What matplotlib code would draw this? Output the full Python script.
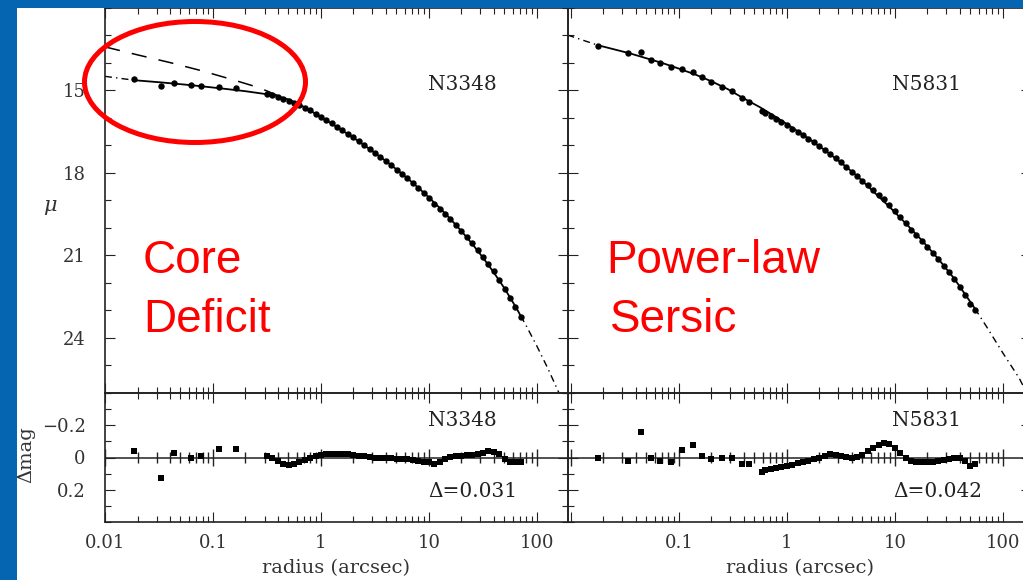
import numpy as np
import matplotlib
matplotlib.use("Agg")
import matplotlib.pyplot as plt
from matplotlib.patches import Ellipse, Rectangle
from matplotlib.ticker import LogLocator, NullFormatter, MultipleLocator

# ---- N3348 (core-Sersic) ----
n3348_r = [0.0186, 0.033, 0.044, 0.0625, 0.077, 0.114, 0.163,
           0.316, 0.355, 0.398, 0.447, 0.501, 0.562, 0.631, 0.708, 0.794, 0.891,
           1.00, 1.12, 1.26, 1.41, 1.58, 1.78, 2.00, 2.24, 2.51, 2.82,
           3.16, 3.55, 3.98, 4.47, 5.01, 5.62, 6.31, 7.08, 7.94, 8.91,
           10.0, 11.2, 12.6, 14.1, 15.8, 17.8, 20.0, 22.4, 25.1, 28.2,
           31.6, 35.5, 39.8, 44.7, 50.1, 56.2, 63.1, 70.8]
n3348_mu = [14.60, 14.85, 14.74, 14.82, 14.85, 14.88, 14.94,
            15.14, 15.18, 15.24, 15.32, 15.385, 15.47, 15.55, 15.645, 15.74, 15.85,
            15.965, 16.08, 16.20, 16.325, 16.45, 16.58, 16.715, 16.855, 16.99, 17.135,
            17.28, 17.425, 17.575, 17.73, 17.89, 18.05, 18.21, 18.385, 18.56, 18.745,
            18.93, 19.13, 19.31, 19.49, 19.675, 19.89, 20.11, 20.335, 20.565, 20.81,
            21.05, 21.31, 21.585, 21.89, 22.21, 22.55, 22.88, 23.23]
n3348_dmag = [-0.04, 0.125, -0.03, 0.0, -0.01, -0.05, -0.05,
              -0.01, 0.0, 0.02, 0.04, 0.045, 0.04, 0.03, 0.015, 0.0, -0.01,
              -0.015, -0.02, -0.02, -0.02, -0.02, -0.02, -0.015, -0.01, -0.01, -0.005,
              0.0, 0.0, 0.005, 0.005, 0.01, 0.01, 0.01, 0.015, 0.02, 0.025,
              0.03, 0.04, 0.03, 0.01, -0.005, -0.01, -0.01, -0.015, -0.015, -0.02,
              -0.03, -0.04, -0.035, -0.02, 0.01, 0.03, 0.03, 0.03]
# model fit (solid), its extrapolations (dash-dot) and the Sersic part (dashed)
n3348_fit_r = [0.0186, 0.033, 0.0625, 0.114, 0.2, 0.316, 0.398, 0.501, 0.631, 0.794,
               1.0, 1.26, 1.58, 2.0, 2.51, 3.16, 3.98, 5.01, 6.31, 7.94,
               10.0, 12.6, 15.8, 20.0, 25.1, 31.6, 39.8, 50.1, 63.1, 70.8]
n3348_fit_mu = [14.64, 14.72, 14.82, 14.93, 15.04, 15.15, 15.22, 15.34, 15.52, 15.74,
                15.98, 16.22, 16.47, 16.73, 17.0, 17.28, 17.57, 17.88, 18.2, 18.54,
                18.9, 19.28, 19.68, 20.12, 20.58, 21.08, 21.62, 22.2, 22.85, 23.2]
n3348_in_r = [0.01, 0.0186]
n3348_in_mu = [14.50, 14.64]
n3348_out_r = [70.8, 79.4, 100, 126, 158, 178]
n3348_out_mu = [23.2, 23.55, 24.3, 25.1, 25.95, 26.4]
n3348_sersic_r = [0.01, 0.02, 0.04, 0.079, 0.158, 0.251, 0.316, 0.398]
n3348_sersic_mu = [13.43, 13.72, 14.0, 14.3, 14.64, 14.88, 15.03, 15.2]

# ---- N5831 (Sersic) ----
n5831_r = [0.0178, 0.034, 0.045, 0.055, 0.067, 0.085, 0.107, 0.135, 0.163, 0.2,
           0.25, 0.31, 0.38, 0.45, 0.59,
           0.631, 0.708, 0.794, 0.891, 1.0, 1.12, 1.26, 1.41, 1.58, 1.78,
           2.0, 2.24, 2.51, 2.82, 3.16, 3.55, 3.98, 4.47, 5.01, 5.62,
           6.31, 7.08, 7.94, 8.91, 10.0, 11.2, 12.6, 14.1, 15.8, 17.8,
           20.0, 22.4, 25.1, 28.2, 31.6, 35.5, 39.8, 44.7, 50.1, 55.0]
n5831_mu = [13.39, 13.67, 13.62, 13.89, 14.02, 14.15, 14.22, 14.33, 14.52, 14.69,
            14.87, 15.05, 15.30, 15.45, 15.76,
            15.82, 15.93, 16.045, 16.17, 16.28, 16.405, 16.525, 16.645, 16.77, 16.90,
            17.04, 17.17, 17.31, 17.465, 17.62, 17.785, 17.96, 18.115, 18.295, 18.45,
            18.62, 18.795, 18.96, 19.155, 19.38, 19.61, 19.84, 20.07, 20.275, 20.49,
            20.71, 20.925, 21.14, 21.375, 21.61, 21.855, 22.135, 22.43, 22.75, 22.97]
n5831_dmag = [0.0, 0.02, -0.16, 0.0, 0.02, 0.025, -0.045, -0.075, -0.01, 0.01,
              0.0, 0.0, 0.04, 0.04, 0.09,
              0.08, 0.07, 0.065, 0.06, 0.05, 0.045, 0.035, 0.025, 0.02, 0.01,
              0.0, -0.01, -0.02, -0.015, -0.01, -0.005, 0.0, -0.005, -0.015, -0.04,
              -0.06, -0.075, -0.09, -0.085, -0.06, -0.03, 0.0, 0.02, 0.025, 0.03,
              0.03, 0.025, 0.02, 0.015, 0.01, 0.005, 0.005, 0.02, 0.05, 0.04]
n5831_fit_r = [0.0178, 0.0355, 0.0708, 0.1, 0.141, 0.2, 0.282, 0.398, 0.562, 0.794,
               1.12, 1.58, 2.24, 3.16, 4.47, 6.31, 8.91, 12.6, 17.8, 25.1, 35.5, 50.1, 55.0]
n5831_fit_mu = [13.37, 13.67, 14.02, 14.22, 14.43, 14.68, 14.96, 15.3, 15.62, 15.98,
                16.36, 16.75, 17.18, 17.63, 18.12, 18.68, 19.24, 19.84, 20.46, 21.12, 21.85, 22.7, 22.93]
n5831_in_r = [0.0093, 0.0178]
n5831_in_mu = [13.0, 13.37]
n5831_out_r = [55.0, 70.8, 100, 141, 182]
n5831_out_mu = [22.93, 23.6, 24.55, 25.45, 26.3]

xticks = [0.01, 0.1, 1, 10, 100]
xtick_labels = ["0.01", "0.1", "1", "10", "100"]
xminor = [m * d for d in (0.001, 0.01, 0.1, 1, 10, 100) for m in range(2, 10)]
mu_ticks = [15, 18, 21, 24]
dm_ticks = [-0.2, 0, 0.2]
dm_labels = ["\u22120.2", "0", "0.2"]

W, H = 1023, 580
BLUE = "#0565B0"
INK = "#222222"

plt.rcParams["font.family"] = ["DejaVu Serif"]


def box(x0, y0, x1, y1):
    # pixel box (top-left origin) -> figure fraction
    return [x0 / W, 1 - y1 / H, (x1 - x0) / W, (y1 - y0) / H]


def style(ax, xlim, ylim, yticks, ylabels, left_labels, bottom_labels, ystep, xlabels):
    ax.set_facecolor("none")
    ax.set_xscale("log")
    ax.set_xlim(*xlim)
    ax.set_xticks(xticks, labels=xlabels)
    ax.xaxis.set_minor_locator(LogLocator(base=10, subs=np.arange(2, 10)))
    ax.xaxis.set_minor_formatter(NullFormatter())
    ax.set_ylim(*ylim)
    ax.set_yticks(yticks, labels=ylabels)
    ax.yaxis.set_minor_locator(MultipleLocator(ystep))
    ax.tick_params(which="both", direction="in", top=True, right=True,
                   width=0.8, colors=INK, labelcolor="#333333", labelsize=13,
                   labelleft=left_labels, labelbottom=bottom_labels)
    ax.tick_params(which="major", length=7)
    ax.tick_params(which="minor", length=4)
    ax.tick_params(axis="y", pad=14)
    ax.tick_params(axis="x", pad=9)
    for s in ax.spines.values():
        s.set_linewidth(1.2)
        s.set_color(INK)


def zero_line(ax):
    # the Δmag = 0 line carries tick marks, like an inner axis
    lo, hi = ax.get_xlim()
    ax.axhline(0, color=INK, lw=1.1, zorder=2)
    maj = [x for x in xticks if lo <= x <= hi]
    mnr = [x for x in xminor if lo <= x <= hi]
    ax.vlines(maj, -0.055, 0.055, colors=INK, lw=1.0, zorder=2)
    ax.vlines(mnr, -0.035, 0.035, colors=INK, lw=1.0, zorder=2)
    ax.set_xlim(lo, hi)


def profile(ax, r, mu, fit_r, fit_mu, in_r, in_mu, out_r, out_mu):
    ax.plot(fit_r, fit_mu, color="black", lw=1.3, zorder=2)
    for xr, ym in ((in_r, in_mu), (out_r, out_mu)):
        ax.plot(xr, ym, color="black", lw=1.0, dashes=(5, 3, 1, 3), zorder=2)
    ax.plot(r, mu, "o", color="black", ms=4.6, mew=0, zorder=3)


def residual(ax, r, dm):
    ax.plot(r, dm, "s", color="black", ms=4.0, mew=0, zorder=3)


fig = plt.figure(figsize=(W / 100, H / 100), dpi=100)
fig.patch.set_facecolor("white")

ax_l = fig.add_axes(box(105, 7.5, 568, 393))
ax_lr = fig.add_axes(box(105, 393, 568, 522))
ax_r = fig.add_axes(box(568, 7.5, 1031, 393))
ax_rr = fig.add_axes(box(568, 393, 1031, 522))

xlim_l = (0.01, 194)
xlim_r = (0.0094, 182)
style(ax_l, xlim_l, (26, 12), mu_ticks, [str(t) for t in mu_ticks], True, False, 1, xtick_labels)
style(ax_lr, xlim_l, (0.4, -0.4), dm_ticks, dm_labels, True, True, 0.1, xtick_labels)
style(ax_r, xlim_r, (26, 12), mu_ticks, [str(t) for t in mu_ticks], False, False, 1, xtick_labels)
style(ax_rr, xlim_r, (0.4, -0.4), dm_ticks, dm_labels, False, True, 0.1, [""] + xtick_labels[1:])

profile(ax_l, n3348_r, n3348_mu, n3348_fit_r, n3348_fit_mu,
        n3348_in_r, n3348_in_mu, n3348_out_r, n3348_out_mu)
ax_l.plot(n3348_sersic_r, n3348_sersic_mu, color="black", lw=1.1, dashes=(10, 8), zorder=2)
profile(ax_r, n5831_r, n5831_mu, n5831_fit_r, n5831_fit_mu,
        n5831_in_r, n5831_in_mu, n5831_out_r, n5831_out_mu)

zero_line(ax_lr)
zero_line(ax_rr)
residual(ax_lr, n3348_r, n3348_dmag)
residual(ax_rr, n5831_r, n5831_dmag)

for ax in (ax_lr, ax_rr):
    ax.set_xlabel("radius (arcsec)", fontsize=14, color="#333333", labelpad=5)

txt = dict(fontsize=14.5, color=INK, ha="center", va="center")
ax_l.text(0.771, 0.80, "N3348", transform=ax_l.transAxes, **txt)
ax_r.text(0.775, 0.80, "N5831", transform=ax_r.transAxes, **txt)
ax_lr.text(0.771, 0.79, "N3348", transform=ax_lr.transAxes, **txt)
ax_lr.text(0.795, 0.233, "\u0394=0.031", transform=ax_lr.transAxes, **txt)
ax_rr.text(0.775, 0.79, "N5831", transform=ax_rr.transAxes, **txt)
ax_rr.text(0.799, 0.233, "\u0394=0.042", transform=ax_rr.transAxes, **txt)

fig.text(50 / W, 1 - 206 / H, "\u03bc", fontsize=15, style="italic", color="#333333",
         ha="center", va="center")
fig.text(26 / W, 1 - 455 / H, "\u0394mag", fontsize=14, rotation=90, color="#333333",
         ha="center", va="center")

red = dict(fontsize=33, color="#ff0000", family=["Liberation Sans", "DejaVu Sans"],
           ha="left", va="baseline")
fig.text(143 / W, 1 - 273 / H, "Core", **red)
fig.text(143 / W, 1 - 332 / H, "Deficit", **red)
fig.text(606 / W, 1 - 273 / H, "Power-law", **red)
fig.text(610 / W, 1 - 332 / H, "Sersic", **red)

fig.add_artist(Ellipse((195 / W, 1 - 82 / H), 221 / W, 121 / H, transform=fig.transFigure,
                       fill=False, edgecolor="#ff0000", lw=3.6, zorder=5))

# blue slide frame on the left and top edge
fig.add_artist(Rectangle((0, 0), 17 / W, 1, transform=fig.transFigure,
                         facecolor=BLUE, edgecolor="none", zorder=10))
fig.add_artist(Rectangle((0, 1 - 8 / H), 1, 8 / H, transform=fig.transFigure,
                         facecolor=BLUE, edgecolor="none", zorder=10))

fig.savefig("out.png", dpi=100)
plt.close(fig)
